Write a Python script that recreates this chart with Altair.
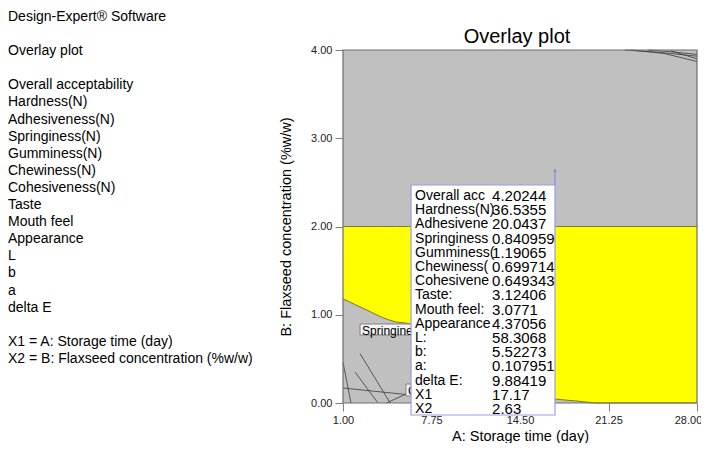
import altair as alt
import pandas as pd

FONT = "Liberation Sans"

# ---- axes -------------------------------------------------------------
x_domain = [1.0, 28.0]
y_domain = [0.0, 4.0]
x_ticks = [1.0, 7.75, 14.5, 21.25, 28.0]
y_ticks = [0.0, 1.0, 2.0, 3.0, 4.0]

# ---- left information panel (blocks separated by blank lines) ---------
info_blocks = [
    ["Design-Expert® Software"],
    ["Overlay plot"],
    ["Overall acceptability", "Hardness(N)", "Adhesiveness(N)", "Springiness(N)",
     "Gumminess(N)", "Chewiness(N)", "Cohesiveness(N)", "Taste", "Mouth feel",
     "Appearance", "L", "b", "a", "delta E"],
    ["X1 = A: Storage time (day)", "X2 = B: Flaxseed concentration (%w/w)"],
]
info_block_line = [0, 2, 4, 19]   # starting line number of each block

# ---- yellow (feasible) region: lower boundary, upper at B = 2.00 -------
region_x = [1.0, 2.0, 3.0, 4.0, 5.0, 6.0, 8.0, 10.0, 12.0, 14.0, 17.17, 19.0, 20.45, 28.0]
region_lower = [1.18, 1.11, 1.04, 0.97, 0.92, 0.90, 0.70, 0.45, 0.25, 0.12, 0.045, 0.02, 0.0, 0.0]
region_upper = [2.0] * len(region_x)

# ---- contour lines in the grey region ---------------------------------
contour_id = ["c1", "c1", "c2", "c2", "c3", "c3", "c4", "c4", "c5", "c5",
              "t1", "t1", "t1", "t2", "t2", "t2", "t3", "t3", "t3", "t4", "t4"]
contour_x = [1.0, 1.61, 1.0, 6.19, 1.92, 3.67, 2.3, 4.6, 4.3, 5.8,
             22.5, 25.0, 28.0, 23.0, 25.5, 28.0, 24.3, 26.0, 28.0, 26.0, 28.0]
contour_y = [0.46, 0.0, 0.17, 0.09, 0.35, 0.0, 0.56, 0.0, 0.0, 0.10,
             4.0, 3.975, 3.93, 4.0, 3.96, 3.87, 4.0, 3.98, 3.95, 3.99, 3.90]

# ---- small contour labels ---------------------------------------------
label_text = ["Springiness", "Cohesiveness"]
label_x = [2.30, 5.80]
label_x2 = [8.5, 10.0]
label_y = [0.895, 0.215]
label_y2 = [0.77, 0.08]

# ---- flag (point readout) ---------------------------------------------
flag_x = 17.17
flag_y = 2.63
flag_box_x = [6.19]
flag_box_x2 = [17.17]
flag_box_y = [2.47]
flag_box_y2 = [-0.136]
flag_names = ["Overall acc", "Hardness(N)", "Adhesivene", "Springiness", "Gumminess(",
              "Chewiness(", "Cohesivene", "Taste:", "Mouth feel:", "Appearance",
              "L:", "b:", "a:", "delta E:", "X1", "X2"]
flag_values = ["4.20244", "36.5355", "20.0437", "0.840959", "1.19065", "0.699714",
               "0.649343", "3.12406", "3.0771", "4.37056", "58.3068", "5.52273",
               "0.107951", "9.88419", "17.17", "2.63"]

# ---------------------------------------------------------------------
W, H = 354, 353
xs = alt.Scale(domain=x_domain, nice=False, zero=False)
ys = alt.Scale(domain=y_domain, nice=False, zero=False)

x_axis = alt.Axis(values=x_ticks, format=".2f", title="A: Storage time (day)",
                  domain=False, grid=False, tickSize=8, tickColor="#808080",
                  labelFontSize=11, labelColor="#222222", labelPadding=3,
                  labelFont=FONT, titleFont=FONT, titleFontSize=14.5,
                  titleFontWeight="normal", titleColor="black", titlePadding=4,
                  labelFlush=False,
                  labelOffset={"condition": {"test": "datum.value >= 28", "value": -9},
                               "value": 0})
y_axis = alt.Axis(values=y_ticks, format=".2f", title="B: Flaxseed concentration (%w/w)",
                  domain=False, grid=False, tickSize=8, tickColor="#808080",
                  labelFontSize=11, labelColor="#222222", labelPadding=3,
                  labelFont=FONT, titleFont=FONT, titleFontSize=14.5,
                  titleFontWeight="normal", titleColor="black", titlePadding=17,
                  labelFlush=False)


def X(field):
    return alt.X(field, scale=xs, axis=x_axis)


def Y(field):
    return alt.Y(field, scale=ys, axis=y_axis)


frame_df = pd.DataFrame({"x": [x_domain[0]], "x2": [x_domain[1]],
                         "y": [y_domain[0]], "y2": [y_domain[1]]})

background = alt.Chart(frame_df).mark_rect(fill="#c0c0c0", stroke=None).encode(
    x=X("x:Q"), x2="x2:Q", y=Y("y:Q"), y2="y2:Q")

region_df = pd.DataFrame({"x": region_x, "y": region_lower, "y2": region_upper})
region = alt.Chart(region_df).mark_area(color="#ffff00", opacity=1, interpolate="monotone").encode(
    x=X("x:Q"), y=Y("y:Q"), y2="y2:Q")

region_edge = alt.Chart(region_df).mark_line(color="#7a7a30", strokeWidth=1,
                                              interpolate="monotone").encode(
    x=X("x:Q"), y=Y("y:Q"))
region_top = alt.Chart(region_df).mark_line(color="#7a7a30", strokeWidth=1).encode(
    x=X("x:Q"), y=Y("y2:Q"))

contour_df = pd.DataFrame({"id": contour_id, "x": contour_x, "y": contour_y,
                           "o": list(range(len(contour_x)))})
contours = alt.Chart(contour_df).mark_line(color="#3a3a3a", strokeWidth=0.8).encode(
    x=X("x:Q"), y=Y("y:Q"), detail="id:N", order="o:Q")

label_df = pd.DataFrame({"t": label_text, "x": label_x, "x2": label_x2,
                         "y": label_y, "y2": label_y2,
                         "ym": [(a + b) / 2 for a, b in zip(label_y, label_y2)]})
label_box = alt.Chart(label_df).mark_rect(fill="#f4f4f4", stroke="#808080", strokeWidth=1).encode(
    x=X("x:Q"), x2="x2:Q", y=Y("y:Q"), y2="y2:Q")
label_txt = alt.Chart(label_df).mark_text(align="left", baseline="middle", dx=2, dy=1,
                                          font=FONT, fontSize=12, color="black").encode(
    x=X("x:Q"), y=Y("ym:Q"), text="t:N")

frame = alt.Chart(frame_df).mark_rect(fill=None, stroke="#6e6e6e", strokeWidth=1.2).encode(
    x=X("x:Q"), x2="x2:Q", y=Y("y:Q"), y2="y2:Q")

box_df = pd.DataFrame({"x": flag_box_x, "x2": flag_box_x2, "y": flag_box_y, "y2": flag_box_y2})
flag_box = alt.Chart(box_df).mark_rect(fill="white", stroke="#9c9ce8", strokeWidth=1.2).encode(
    x=X("x:Q"), x2="x2:Q", y=Y("y:Q"), y2="y2:Q")

pin_df = pd.DataFrame({"x": [flag_x], "y": [flag_box_y[0]], "y2": [flag_y]})
pin = alt.Chart(pin_df).mark_rule(color="#8c8ce0", strokeWidth=1.2).encode(
    x=X("x:Q"), y=Y("y:Q"), y2="y2:Q")
pin_dot = alt.Chart(pin_df).mark_point(color="#8c8ce0", filled=True, size=10, opacity=1).encode(
    x=X("x:Q"), y=Y("y2:Q"))

anchor_df = pd.DataFrame({"x": flag_box_x, "y": flag_box_y})
names_txt = alt.Chart(anchor_df).mark_text(
    text=flag_names, align="left", baseline="top", lineHeight=14.2, dx=4, dy=4,
    font=FONT, fontSize=14, color="black").encode(
    x=X("x:Q"), y=Y("y:Q"))
values_txt = alt.Chart(anchor_df).mark_text(
    text=flag_values, align="left", baseline="top", lineHeight=14.2, dx=81, dy=4,
    limit=63, ellipsis="", font=FONT, fontSize=15, color="black").encode(
    x=X("x:Q"), y=Y("y:Q"))

one_df = pd.DataFrame({"k": [0]})
LINE_H = 17.1
info_layers = [
    alt.Chart(one_df).mark_text(
        text=lines, align="left", baseline="top", lineHeight=LINE_H,
        font=FONT, fontSize=14, color="black").encode(
        x=alt.value(-335), y=alt.value(-40 + start * LINE_H))
    for lines, start in zip(info_blocks, info_block_line)
]

chart_title = alt.Chart(one_df).mark_text(
    text="Overlay plot", align="center", baseline="alphabetic",
    font=FONT, fontSize=20, color="black").encode(
    x=alt.value(W / 2 - 3), y=alt.value(-7))

chart = alt.layer(
    background, region, region_edge, region_top, contours, label_box, label_txt,
    frame, flag_box, pin, pin_dot, names_txt, values_txt, chart_title, *info_layers,
).properties(
    width=W, height=H,
    autosize=alt.AutoSizeParams(type="none"),
    padding={"left": 335, "top": 42, "right": 4, "bottom": 40},
).configure_view(stroke=None)

chart.save("out.html", embed_options={"renderer": "svg", "actions": False})
